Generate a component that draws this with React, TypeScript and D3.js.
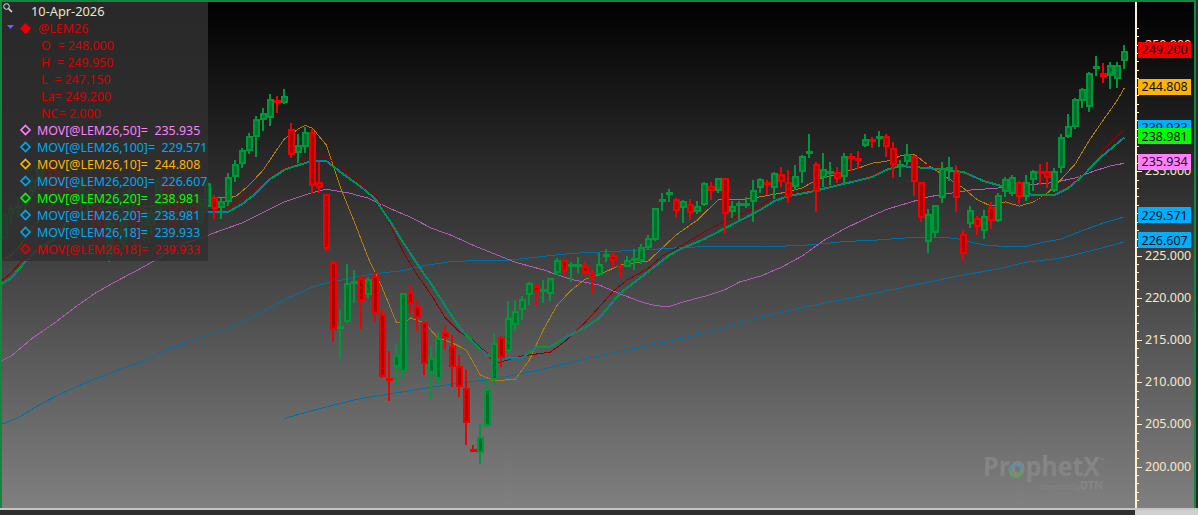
import React from "react";
import * as d3 from "d3";

const W = 1198;
const H = 515;

// Daily bars, oldest first
const opens = [
226.95,229.8,230.5,230.85,232.5,233.7,235.35,235.35,234.2,233.95,
232.75,232.05,231.0,231.0,229.8,224.7,228.85,226.5,229.8,230.75,
227.4,228.5,230.15,233.95,232.15,231.6,228.95,231.0,228.85,230.75,
231.9,230.6,231.35,234.3,235.8,237.4,239.05,241.05,241.35,243.4,
243.1,239.95,237.2,237.9,239.65,233.65,232.25,224.25,216.35,217.15,
221.7,222.3,220.3,222.55,218.05,210.4,211.8,211.2,220.7,219.05,
217.15,211.05,210.35,215.95,214.3,211.95,209.25,201.9,201.55,204.85,
210.25,215.4,213.7,216.75,218.6,220.3,221.35,220.75,220.4,222.95,
224.45,223.8,223.8,223.8,222.95,222.7,225.0,225.05,223.75,223.65,
224.5,224.4,225.85,226.85,231.45,232.3,231.75,230.6,231.05,230.2,
230.95,233.25,232.65,234.15,230.2,231.0,231.0,231.35,232.95,233.55,
233.05,234.65,233.75,233.15,234.85,237.0,235.9,234.15,234.75,234.85,
234.35,236.7,236.4,238.0,238.65,238.9,239.15,237.7,235.6,236.1,
236.8,233.65,226.65,227.7,231.8,235.0,234.95,227.6,228.75,229.5,
227.95,230.7,229.1,232.5,232.25,233.65,231.95,234.0,234.85,235.05,
232.65,235.35,239.0,240.2,243.35,242.55,247.2,246.65,246.25,245.95,248.0];
const highs = [
230.15,231.0,231.8,232.15,234.4,235.75,235.85,235.75,235.15,234.55,
233.7,233.95,232.75,231.95,230.4,229.8,229.8,231.0,233.35,231.6,
231.0,231.0,234.2,234.55,233.95,232.15,231.0,231.8,232.15,233.95,
232.15,231.8,234.75,236.3,237.75,239.55,241.55,242.45,244.15,243.9,
244.7,240.65,239.35,240.2,239.95,236.1,232.25,224.35,218.6,224.05,
223.3,222.7,222.5,223.1,218.55,213.7,214.5,220.5,221.4,219.7,
217.25,214.3,215.95,216.75,215.6,213.2,211.45,202.55,205.05,210.25,
215.8,215.45,219.6,219.7,220.2,221.9,221.7,222.1,222.35,224.65,
224.6,224.25,224.8,224.25,223.3,225.25,225.75,225.5,224.05,224.95,
225.75,226.35,227.45,230.65,232.35,232.9,231.8,231.55,231.75,231.45,
233.7,233.65,234.2,234.2,231.45,231.5,231.9,233.95,234.15,233.95,
234.9,235.45,235.15,235.7,236.9,239.45,236.1,237.2,236.05,235.45,
237.1,237.2,237.35,239.4,239.05,239.75,239.4,238.4,236.3,238.2,
236.9,233.7,230.5,231.0,236.05,236.65,235.7,228.1,230.85,229.7,
230.4,231.35,232.35,234.35,234.55,233.8,234.55,235.15,235.9,236.05,
235.35,239.45,241.75,243.65,244.9,246.7,248.65,247.75,247.9,247.9,249.95];
const lows = [
226.7,228.6,229.45,229.8,231.95,232.75,232.75,232.15,231.6,231.6,
231.0,230.4,229.8,225.65,226.0,224.2,224.45,225.65,229.2,225.65,
226.85,227.4,229.45,230.6,227.4,229.2,228.5,228.95,228.5,230.15,
229.3,229.3,230.85,233.75,235.4,237.0,236.7,239.75,240.4,241.85,
242.95,236.6,235.95,237.1,232.35,232.35,225.55,214.8,212.75,217.05,
219.35,216.3,220.0,217.15,210.5,207.8,209.55,210.35,218.15,216.1,
210.85,208.0,209.65,213.9,209.45,208.25,202.55,201.7,200.3,204.7,
209.55,211.75,213.6,216.1,217.35,219.15,219.15,219.35,219.6,222.7,
222.7,221.9,222.9,222.55,220.5,222.6,224.25,223.5,222.5,223.65,
223.3,224.05,225.65,226.75,230.25,231.35,229.45,228.9,229.2,229.9,
230.9,231.6,232.35,227.65,229.4,229.2,230.6,229.0,232.45,232.15,
231.75,233.15,231.2,232.75,233.55,236.6,230.1,233.15,233.35,233.55,
233.55,235.05,235.2,237.8,237.7,237.9,236.7,234.2,234.35,235.7,
232.1,229.0,225.35,227.25,231.25,233.85,230.2,224.3,228.2,227.4,
226.9,228.15,228.95,231.95,232.1,231.1,231.5,232.65,233.35,232.95,
232.55,234.75,238.9,240.0,242.45,242.05,246.3,245.45,244.75,244.9,247.15];
const closes = [
229.9,230.6,231.0,231.8,233.95,235.35,234.2,232.75,233.25,232.75,
232.05,233.25,232.15,226.25,226.85,228.95,224.95,230.0,232.75,226.25,
230.15,230.15,233.95,231.6,228.0,230.05,230.15,230.15,231.2,233.6,
230.55,231.5,234.35,235.85,237.5,239.15,241.15,241.85,243.5,243.2,
243.95,236.9,238.15,239.65,233.2,232.95,225.75,216.15,216.5,221.7,
221.8,219.65,222.2,218.05,210.65,210.3,213.2,220.5,219.2,217.65,
212.1,212.8,215.25,215.2,211.8,209.4,205.2,201.8,203.5,209.15,
214.6,212.8,217.55,218.45,219.9,221.75,220.65,220.85,222.3,224.45,
223.2,223.9,223.9,222.95,222.3,224.0,225.1,224.4,223.65,224.45,
224.6,226.05,227.05,230.65,231.55,232.4,230.25,231.5,230.0,230.85,
233.6,232.6,234.15,229.9,230.85,231.1,231.1,232.75,234.05,233.45,
234.75,233.65,231.95,234.45,236.8,237.4,232.5,235.25,234.85,234.05,
236.8,236.6,236.3,238.75,238.55,239.0,237.8,235.7,235.7,237.0,
233.65,229.4,229.9,231.0,235.4,235.5,231.8,225.2,230.45,228.4,
229.7,229.1,232.15,234.05,234.35,231.95,233.65,235.0,234.75,234.15,
235.05,239.0,240.4,243.55,244.7,246.6,247.3,246.1,247.55,247.55,249.2];

// Moving averages: bar index and value pairs
const ma50Bars = [-1,1,4,7,10,13,16,19,22,25,28,31,34,37,40,42,44,46,49,52,55,58,61,64,67,70,73,77,81,85,88,91,93,95,97,100,103,105,108,111,114,117,120,123,126,129,132,135,138,142,146,150,153,156,158,160];
const ma50Vals = [212.25,213.1,215.2,216.9,218.8,220.55,221.95,223.25,224.65,226.25,227.05,228.0,228.85,230.1,231.35,231.9,232.45,232.85,232.45,231.8,230.6,229.55,228.25,227.35,226.2,225.2,224.2,223.3,222.15,221.5,220.45,219.5,219.05,218.95,219.5,220.15,220.95,221.85,222.55,223.6,224.95,226.75,228.15,229.35,230.45,231.2,231.95,232.35,232.75,233.0,233.35,233.65,234.2,235.1,235.6,235.93];
const ma100Bars = [-1,2,5,8,11,14,17,20,23,27,32,36,40,44,46,48,51,54,57,60,64,68,72,76,81,86,91,96,101,106,111,114,117,120,125,130,134,136,138,140,143,146,148,151,154,157,160];
const ma100Vals = [204.8,205.8,207.3,208.6,209.7,210.7,211.65,212.5,213.8,214.95,216.35,217.95,219.75,221.25,221.75,222.05,222.6,222.95,223.2,223.8,224.3,224.4,224.45,224.8,225.25,225.45,225.65,225.9,226.1,226.1,226.1,226.2,226.4,226.65,226.85,227.15,227.15,227.0,226.6,226.25,226.05,226.05,226.5,226.95,227.95,228.85,229.57];
const ma200Bars = [40,45,50,55,60,65,70,73,77,85,93,100,108,115,123,130,137,142,146,151,155,160];
const ma200Vals = [205.7,206.85,207.9,208.6,209.25,209.9,210.35,210.85,211.55,213.1,214.5,215.8,217.7,219.0,220.3,221.5,222.7,223.4,224.2,224.7,225.5,226.6];
const ma10Bars = [-1,1,2,4,6,8,10,11,13,15,18,21,24,27,30,33,35,37,39,40,42,43,44,46,48,50,52,54,56,57,58,60,62,64,66,68,70,73,75,77,79,81,83,85,88,92,94,96,99,102,105,108,111,114,116,118,122,124,126,128,130,132,135,137,139,141,143,145,147,149,151,153,155,157,159,160];
const ma10Vals = [224.2,225.05,225.9,228.25,230.15,231.9,233.2,233.6,232.75,231.2,230.75,230.85,231.1,231.45,231.8,231.95,233.35,235.15,237.6,238.8,240.0,240.4,240.1,238.1,233.1,229.0,224.7,221.15,217.1,216.9,217.6,217.0,215.2,214.65,213.8,210.85,210.15,210.35,212.6,216.2,219.15,220.9,222.2,222.7,223.9,224.35,225.9,227.45,229.2,231.6,231.6,231.95,232.4,233.0,233.95,234.4,235.35,235.95,236.15,236.8,237.0,235.7,234.05,233.0,231.6,230.85,231.35,230.85,231.35,232.4,234.05,235.85,238.65,241.05,243.4,244.85];
const ma20Bars = [-1,1,3,5,7,9,11,15,19,21,26,30,32,34,36,38,40,42,44,46,48,51,53,55,57,59,61,63,65,67,69,71,74,76,78,80,83,85,88,91,93,95,97,100,103,105,108,110,112,115,118,121,124,126,128,132,137,140,143,147,150,152,154,157,160];
const ma20Vals = [221.3,222.35,224.25,225.9,226.85,228.95,229.9,230.75,230.75,230.05,230.05,230.15,230.15,231.1,232.4,234.05,235.15,235.7,236.2,236.2,234.9,233.1,231.7,229.2,226.5,224.0,221.6,219.0,216.5,214.65,213.2,212.85,212.85,214.15,214.15,215.2,216.5,217.6,220.55,222.45,223.75,225.05,225.9,226.95,228.25,229.1,230.4,231.45,232.05,232.5,233.1,233.7,234.3,235.15,235.6,235.35,234.9,233.8,233.1,232.15,232.15,233.0,234.4,236.9,238.98];
const ma18Bars = [-1,1,3,5,7,9,11,15,19,21,26,30,32,34,36,38,40,42,43,45,47,49,51,53,54,55,56,57,59,61,63,65,67,69,70,71,74,78,80,83,85,87,89,92,94,97,100,103,106,108,110,113,116,119,122,125,127,130,134,137,140,143,146,147,149,151,153,155,157,160];
const ma18Vals = [221.6,222.95,224.8,226.35,227.3,229.45,230.4,231.1,231.0,230.25,230.25,230.5,230.75,231.8,233.1,234.65,235.35,235.95,236.55,236.95,236.2,234.75,233.45,232.15,230.95,228.95,227.05,225.4,222.7,220.3,217.6,215.95,214.95,213.35,212.15,212.4,213.1,213.55,214.75,217.1,218.9,220.8,222.1,223.5,224.95,226.25,227.8,229.1,230.15,230.95,231.95,232.5,232.85,233.35,233.95,234.9,235.35,235.95,235.5,234.75,233.95,233.0,232.15,231.55,232.15,232.75,233.95,235.15,237.5,239.93];

const majorTicks = [200,205,210,215,220,225,230,235,240,245,250];
const minorTicks = d3.range(194,253);

const priceLabelValues = [226.607,229.571,235.934,239.933,238.981,244.808,249.2];
const priceLabelText = ["226.607","229.571","235.934","239.933","238.981","244.808","249.200"];
const priceLabelFill = ["#00aeff","#00aeff","#ff80ff","#00aeff","#00ff00","#ffb400","#f00000"];

const dateText = "10-Apr-2026";
const symbol = "@LEM26";
const quoteRows = ["O  = 248.000","H  = 249.950","L  = 247.150","La= 249.200","NC= 2.000"];
const legendNames = ["MOV[@LEM26,50]=","MOV[@LEM26,100]=","MOV[@LEM26,10]=","MOV[@LEM26,200]=","MOV[@LEM26,20]=","MOV[@LEM26,20]=","MOV[@LEM26,18]=","MOV[@LEM26,18]="];
const legendValues = ["235.935","229.571","244.808","226.607","238.981","238.981","239.933","239.933"];
const legendColors = ["#ff80ff","#00a8f0","#ffb400","#00a8f0","#00ff00","#00a8f0","#00a8f0","#e00000"];

const font = "'Noto Sans', 'Open Sans', sans-serif";

export default function App() {
  const x = d3.scaleLinear().domain([0, 160]).range([4.3, 1124.3]);
  const y = d3.scaleLinear().domain([200, 250]).range([466.5, 44.5]);
  const path = (bars: number[], vals: number[]) =>
    d3.line<number>().x((b) => x(b)).y((_, i) => y(vals[i]))(bars) || "";

  const lines = [
    { d: path(ma200Bars, ma200Vals), c: "#0070a4", w: 1 },
    { d: path(ma100Bars, ma100Vals), c: "#0070a4", w: 1 },
    { d: path(ma50Bars, ma50Vals), c: "#b05cb0", w: 1 },
    { d: path(ma10Bars, ma10Vals), c: "#b47c10", w: 1 },
    { d: path(ma18Bars, ma18Vals), c: "#920000", w: 1 },
    { d: path(ma20Bars, ma20Vals), c: "#00a030", w: 2 },
    { d: path(ma20Bars, ma20Vals), c: "#0080a0", w: 1 },
  ];

  const diamond = (cx: number, cy: number, r: number) =>
    `M${cx},${cy - r}L${cx + r},${cy}L${cx},${cy + r}L${cx - r},${cy}Z`;

  return (
    <>
      <style>{"html,body{margin:0;padding:0;overflow:hidden;background:#000}"}</style>
      <svg width={W} height={H} style={{ position: "fixed", left: 0, top: 0, display: "block" }} fontFamily={font}>
        <defs>
          <linearGradient id="bg" x1="0" y1="0" x2="0" y2="1">
            <stop offset="0" stopColor="#000000" />
            <stop offset="1" stopColor="#808080" />
          </linearGradient>
          <clipPath id="plot"><rect x={2} y={2} width={1133} height={506} /></clipPath>
        </defs>
        <rect x={0} y={0} width={W} height={510} fill="url(#bg)" />

        <g clipPath="url(#plot)">
          <g fill="none" shapeRendering="crispEdges">
            {lines.map((l, i) => (
              <path key={i} d={l.d} stroke={l.c} strokeWidth={l.w} />
            ))}
          </g>
          <g shapeRendering="crispEdges">
            {opens.map((o, i) => {
              const c = closes[i];
              const up = c >= o;
              const cx = x(i);
              const yt = y(Math.max(o, c));
              const yb = y(Math.min(o, c));
              const bright = up ? "#00963a" : "#f00000";
              const dark = up ? "#00702c" : "#b00000";
              const doji = yb - yt < 3;
              const top = doji ? (yt + yb) / 2 - 1.5 : yt;
              const h = doji ? 3 : yb - yt;
              return (
                <g key={i}>
                  <rect x={cx - 1} y={y(highs[i])} width={2} height={y(lows[i]) - y(highs[i])} fill={bright} />
                  <rect x={cx - 3.5} y={top} width={7} height={h} fill={bright} />
                  {h > 4 && <rect x={cx - 1.5} y={top + 2} width={3} height={h - 4} fill={dark} />}
                </g>
              );
            })}
          </g>
        </g>

        {/* watermark */}
        <g>
          <text x={983} y={476} fontFamily="'Open Sans', sans-serif" fontWeight={700} fontSize={26} fill="#858585" textLength={117} lengthAdjust="spacingAndGlyphs">ProphetX</text>
          <path d="M1010,470.5a6,6 0 0 1 12,0" fill="none" stroke="#5a90a8" strokeWidth={3} />
          <path d="M1010,470.5a6,6 0 0 0 12,0" fill="none" stroke="#6a9a5c" strokeWidth={3} />
          <text x={1100} y={462} fontSize={6} fill="#858585">™</text>
          <text x={1040} y={489} fontSize={7.5} fill="#858585">powered by</text>
          <text x={1080} y={489} fontSize={11} fontWeight={700} fill="#858585">DTN</text>
        </g>

        {/* axis */}
        <g shapeRendering="crispEdges">
          <rect x={1135} y={2} width={2} height={507} fill="#fff0d0" />
          {minorTicks.map((t) => (
            <rect key={t} x={1137} y={Math.round(y(t))} width={2} height={1} fill="#fff0d0" />
          ))}
          {majorTicks.map((t) => (
            <rect key={t} x={1137} y={Math.round(y(t))} width={5} height={1} fill="#fff0d0" />
          ))}
        </g>
        {majorTicks.map((t) => (
          <text key={t} x={1145} y={y(t) + 4} fontSize={12.5} fill="#f8e8c8">{t.toFixed(3)}</text>
        ))}
        {priceLabelValues.map((v, i) => (
          <g key={i}>
            <rect x={1138} y={Math.round(y(v) - 9.5)} width={53} height={16} fill={priceLabelFill[i]} shapeRendering="crispEdges" />
            <text x={1141.5} y={y(v) + 3} fontSize={12.5} fill="#101010">{priceLabelText[i]}</text>
          </g>
        ))}

        {/* legend panel */}
        <rect x={2} y={2} width={206} height={259} fill="#303030" fillOpacity={0.86} shapeRendering="crispEdges" />
        <g stroke="#e8e8e8" fill="none" strokeWidth={1}>
          <circle cx={6.5} cy={6.5} r={2.8} />
          <path d="M8.7,8.7L12,12" strokeWidth={1.5} />
        </g>
        <path d="M7,25H14L10.5,29Z" fill="#6a5cff" />
        <text x={31} y={15.5} fontSize={12.8} fill="#f0e4c8">{dateText}</text>
        <path d={diamond(25.5, 28.5, 5.5)} fill="#e80000" />
        <text x={38} y={33} fontSize={12.5} fill="#d80000">{symbol}</text>
        {quoteRows.map((r, i) => (
          <text key={r} x={41} y={50 + i * 17} fontSize={12.5} fill="#d80000" style={{ whiteSpace: "pre" }}>{r}</text>
        ))}
        {legendNames.map((n, i) => {
          const cy = 130 + i * 17;
          return (
            <g key={i}>
              <path d={diamond(25.5, cy, 4.5)} fill="none" stroke={legendColors[i]} strokeWidth={1.6} />
              <text x={37} y={cy + 4.5} fontSize={12.4} fill={legendColors[i]} style={{ whiteSpace: "pre" }}>
                {n}<tspan dx={6.5}>{legendValues[i]}</tspan>
              </text>
            </g>
          );
        })}

        {/* frame */}
        <g shapeRendering="crispEdges">
          <rect x={0} y={0} width={W} height={2} fill="#0f8a3c" />
          <rect x={0} y={0} width={2} height={510} fill="#0f8a3c" />
          <rect x={1194} y={0} width={2} height={510} fill="#0f8a3c" />
          <rect x={1196} y={0} width={2} height={510} fill="#2a2a2a" />
          <rect x={0} y={508} width={W} height={2} fill="#c4c4c4" />
          <rect x={0} y={510} width={1135} height={5} fill="#2e2e2e" />
          <rect x={1135} y={510} width={63} height={5} fill="#d0d0d0" />
        </g>
      </svg>
    </>
  );
}
